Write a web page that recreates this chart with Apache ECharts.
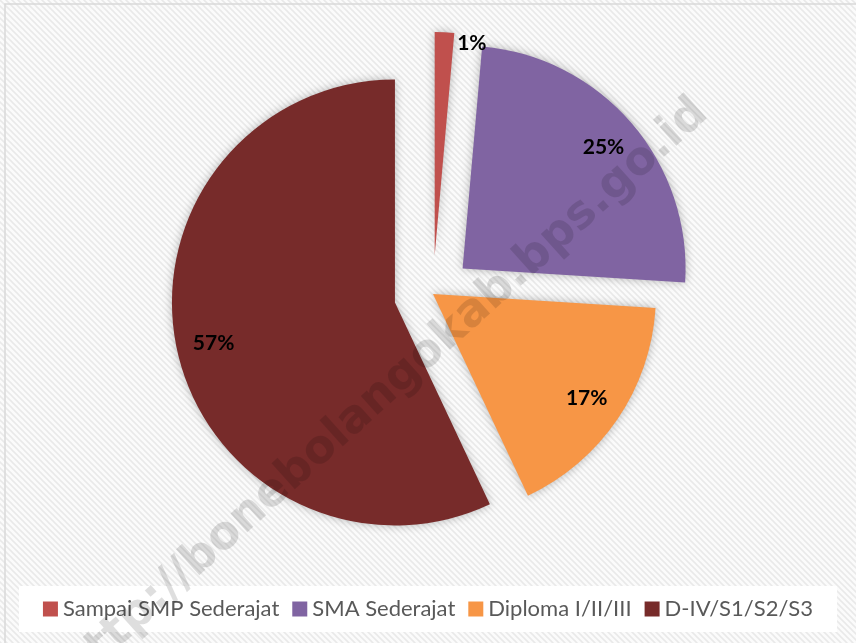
<!DOCTYPE html>
<html><head><meta charset="utf-8">
<script src="https://cdn.jsdelivr.net/npm/echarts@6/dist/echarts.min.js"></script>
<style>html,body{margin:0;padding:0;background:#fff}#c{width:856px;height:643px}</style>
</head><body><div id="c"></div>
<script>
const categories = ['Sampai SMP Sederajat', 'SMA Sederajat', 'Diploma I/II/III', 'D-IV/S1/S2/S3'];
const values = [1.4, 24.6, 17, 57];
const labels = ['1%', '25%', '17%', '57%'];
const exploded = [true, true, false, true];
const colors = ['#C0504D', '#8064A2', '#F79646', '#772B2A'];

// background stripe pattern
const pc = document.createElement('canvas');
pc.width = 6; pc.height = 6;
const g = pc.getContext('2d');
g.fillStyle = '#fbfbfb'; g.fillRect(0, 0, 6, 6);
g.strokeStyle = '#e9e9e9'; g.lineWidth = 1.6;
for (let k = -2; k <= 2; k++) {
  g.beginPath(); g.moveTo(k * 6 - 1, -1); g.lineTo(k * 6 + 7, 7); g.stroke();
}

const chart = echarts.init(document.getElementById('c'));
const center = [433, 294];
const R = 223;
const mainData = categories.map((n, i) => ({
  name: n, value: values[i], selected: exploded[i],
  itemStyle: { color: colors[i] }
}));
const labelData = categories.map((n, i) => {
  const d = { name: n, value: values[i], selected: exploded[i], label: { formatter: labels[i] } };
  if (i === 0) {
    d.label.formatter = labels[i] + '\n \n ';
    d.label.lineHeight = 26;
    d.label.padding = [0, 0, 0, 58];
  }
  return d;
});
chart.setOption({
  backgroundColor: { image: pc, repeat: 'repeat' },
  animation: false,
  legend: {
    data: categories,
    bottom: 11,
    left: 'center',
    itemWidth: 15, itemHeight: 15, itemGap: 13,
    icon: 'rect',
    backgroundColor: '#ffffff',
    padding: [12, 24, 12, 24],
    selectedMode: false,
    textStyle: { fontFamily: 'Lato', fontSize: 22, color: '#595959' }
  },
  graphic: [
    { type: 'rect', shape: { x: 5, y: 4, width: 900, height: 700 }, style: { fill: 'none', stroke: '#d9d9d9', lineWidth: 1.5 }, silent: true, z: 0 },
    { type: 'text', x: 385, y: 392, rotation: 42 * Math.PI / 180, z: 100, silent: true,
      style: { text: 'http://bonebolangokab.bps.go.id', fontFamily: 'DejaVu Sans', fontWeight: 'bold', fontSize: 46,
        fill: 'rgba(0,0,0,0.13)', align: 'center', verticalAlign: 'middle' } }
  ],
  series: [
    {
      type: 'pie', center: center, radius: R, startAngle: 90, clockwise: true,
      selectedMode: 'multiple', selectedOffset: 39,
      data: mainData, label: { show: false }, labelLine: { show: false },
      itemStyle: { shadowBlur: 10, shadowColor: 'rgba(0,0,0,0.28)' },
      emphasis: { disabled: true }, silent: true, z: 2
    },
    {
      type: 'pie', center: center, radius: R * 1.64, startAngle: 90, clockwise: true,
      selectedMode: 'multiple', selectedOffset: 39,
      data: labelData, itemStyle: { color: 'rgba(0,0,0,0)' },
      label: { show: true, position: 'inside', fontFamily: 'Lato', fontWeight: 'bold', fontSize: 21, color: '#000' },
      labelLine: { show: false }, emphasis: { disabled: true }, silent: true, z: 3,
      legendHoverLink: false
    }
  ]
});
</script></body></html>
